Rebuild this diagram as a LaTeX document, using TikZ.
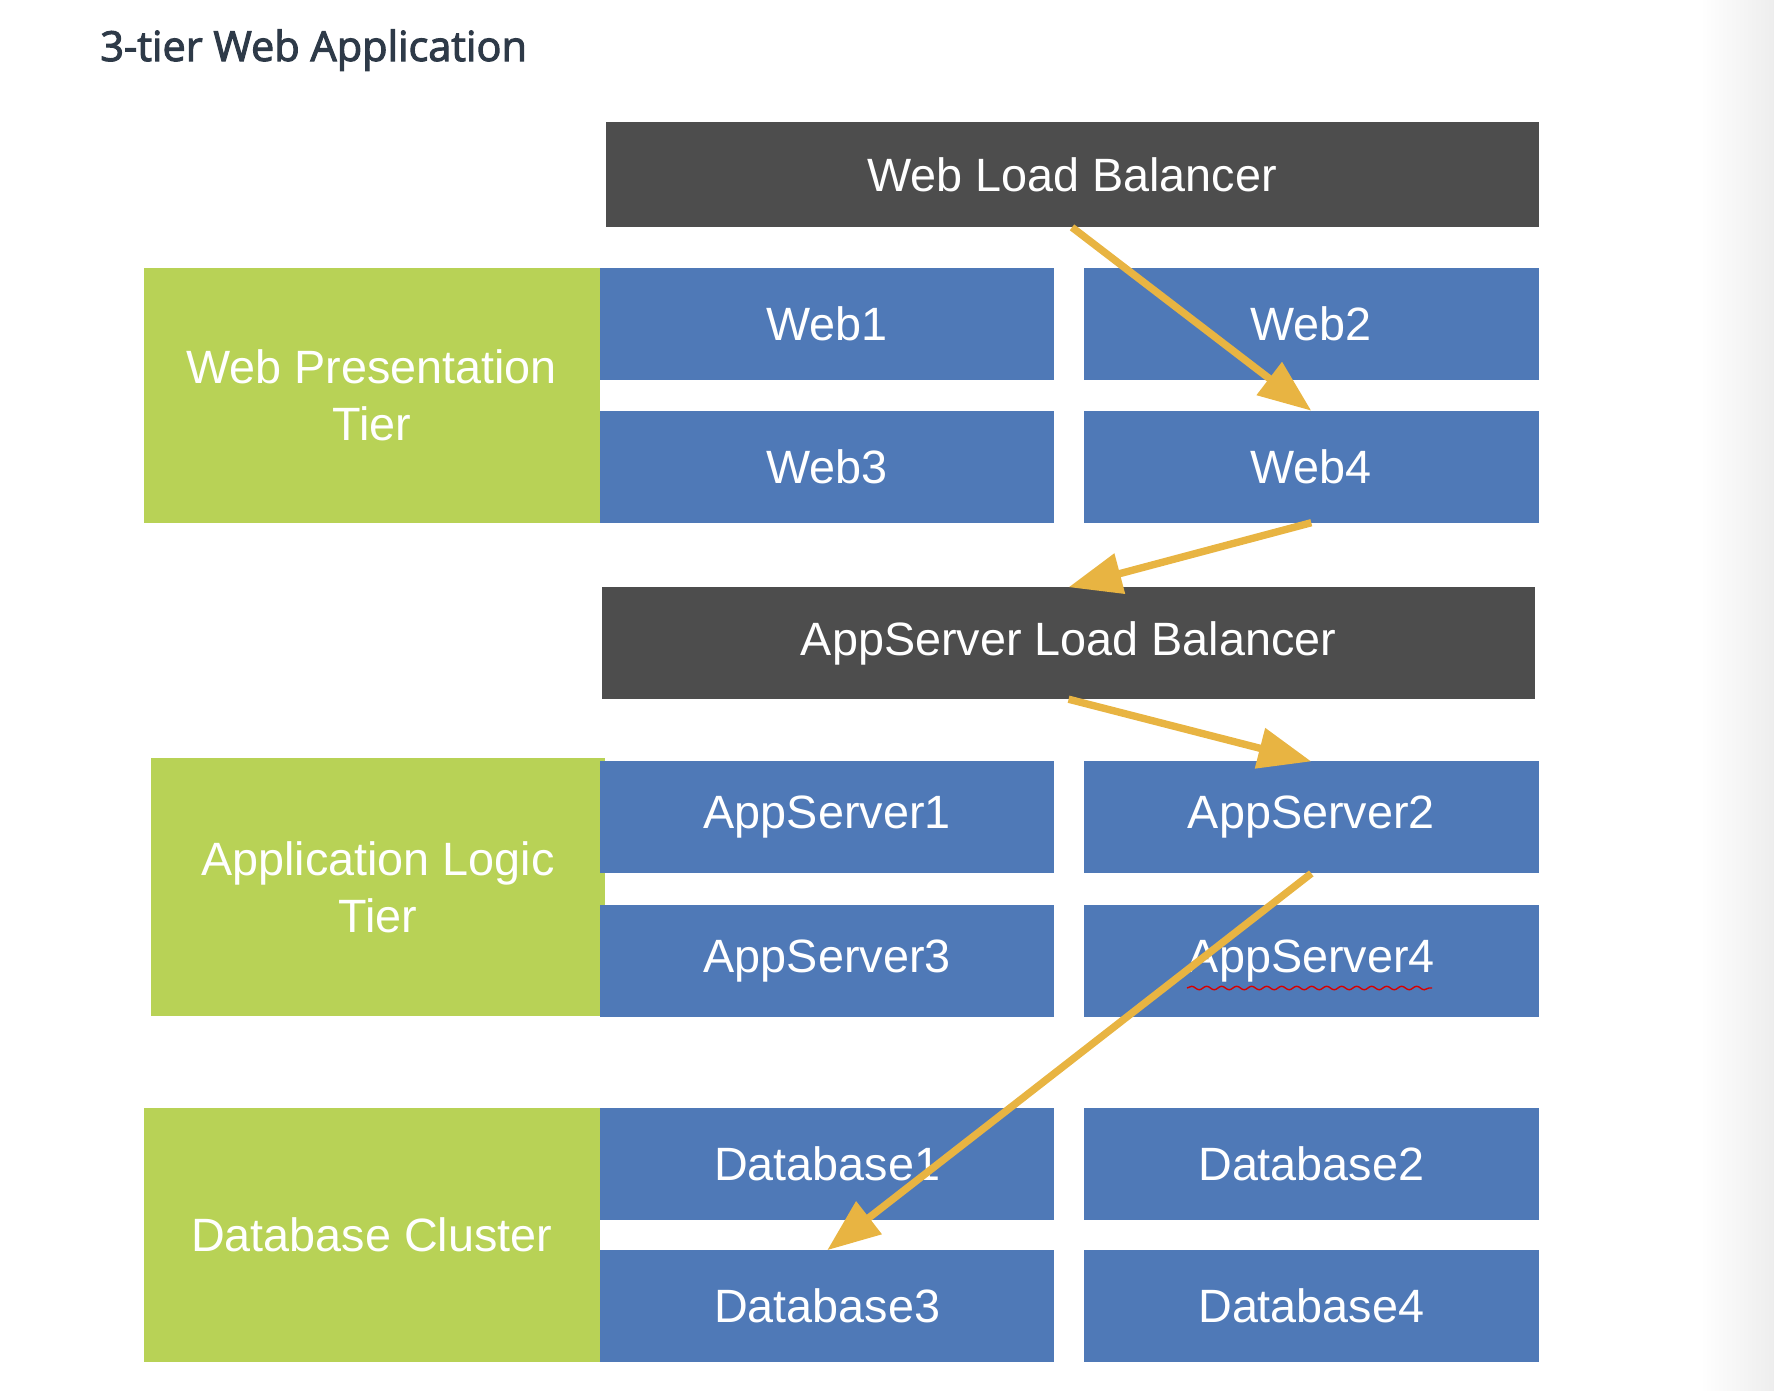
\documentclass[tikz,border=0pt]{standalone}
\usepackage{fontspec}
\setmainfont{Liberation Sans}
\newfontfamily\titlefont[FakeBold=2.5]{Open Sans}
\usetikzlibrary{arrows.meta}
\usetikzlibrary{decorations.pathmorphing}

\definecolor{lbgray}{RGB}{77,77,77}
\definecolor{srvblue}{RGB}{79,121,183}
\definecolor{tiergreen}{RGB}{184,210,86}
\definecolor{floworange}{RGB}{232,180,66}
\definecolor{titleink}{RGB}{46,58,72}

\tikzset{
	box/.style={inner sep=0pt, outer sep=0pt, text=white, font=\fontsize{13.3}{16.2}\selectfont},
	lb/.style={box, fill=lbgray, minimum width=9.33cm, minimum height=1.05cm},
	srv/.style={box, fill=srvblue, minimum width=4.545cm, minimum height=1.12cm},
	tier/.style={box, fill=tiergreen, minimum width=4.56cm, minimum height=2.546cm, align=center},
	flow/.style={draw=floworange, line width=2.1pt, -{Triangle[length=5.3mm,width=4mm]}}
}

\begin{document}
\begin{tikzpicture}

		\useasboundingbox (0,0) rectangle (17.74,-13.90);
		\shade [left color=white, right color=black!7] (17.0,0) rectangle (17.74,-13.90);

		\node [anchor=base west, text=titleink, inner sep=0pt, font=\titlefont\fontsize{11.8}{14}\selectfont] (title) at (0.996,-0.61) {3-tier Web Application};

		% web tier
		\node [lb] (weblb) at (10.72,-1.748) {Web Load Balancer};
		\node [tier] (webtier) at (3.717,-3.954) {Web Presentation\\Tier};
		\node [srv] (web1) at (8.272,-3.242) {Web1};
		\node [srv] (web2) at (13.113,-3.242) {Web2};
		\node [srv] (web3) at (8.272,-4.667) {Web3};
		\node [srv] (web4) at (13.113,-4.667) {Web4};

		% application tier
		\node [lb, minimum height=1.12cm] (applb) at (10.686,-6.432) {AppServer Load Balancer};
		\node [tier, minimum width=4.548cm, minimum height=2.58cm] (apptier) at (3.779,-8.87) {Application Logic\\Tier};
		\node [srv] (as1) at (8.272,-8.174) {AppServer1};
		\node [srv] (as2) at (13.113,-8.174) {AppServer2};
		\node [srv] (as3) at (8.272,-9.606) {AppServer3};
		\node [srv] (as4) at (13.113,-9.606) {AppServer4};
		\draw [red!85!black, line width=0.4pt, decorate, decoration={snake, amplitude=0.5pt, segment length=1.5mm}] (11.87,-9.88) -- (14.32,-9.88);

		% database tier
		\node [tier] (dbtier) at (3.717,-12.349) {Database Cluster};
		\node [srv] (db1) at (8.272,-11.636) {Database1};
		\node [srv] (db2) at (13.113,-11.636) {Database2};
		\node [srv] (db3) at (8.272,-13.062) {Database3};
		\node [srv] (db4) at (13.113,-13.062) {Database4};

		\draw [flow] (weblb.south)--(web4.north);
		\draw [flow] (web4.south)--(applb.north);
		\draw [flow] (applb.south)--(as2.north);
		\draw [flow] (as2.south)--(db3.north);

\end{tikzpicture}
\end{document}
